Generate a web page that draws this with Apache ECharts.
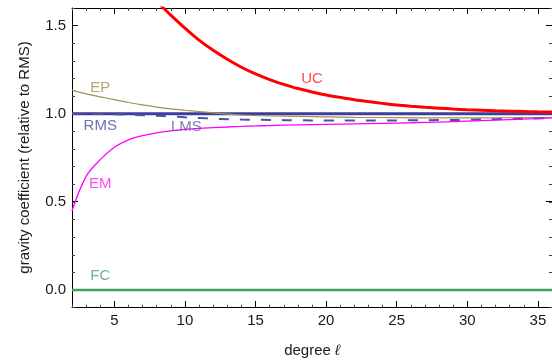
<!DOCTYPE html>
<html>
<head>
<meta charset="utf-8">
<script src="https://cdn.jsdelivr.net/npm/echarts@6/dist/echarts.min.js"></script>
<style>html,body{margin:0;padding:0;background:#fff}#c{width:552px;height:363px}</style>
</head>
<body>
<div id="c"></div>
<script>
// ---- data ----
const xMajorTicks = [5, 10, 15, 20, 25, 30, 35];
const yMajorTicks = [0, 0.5, 1.0, 1.5];

const ucDeg = [7,8,9,10,11,12,13,14,15,16,17,18,19,20,21,22,23,24,25,26,27,28,29,30,31,32,33,34,35,36];
const ucVal = [1.73,1.638,1.560,1.486,1.418,1.360,1.309,1.264,1.226,1.194,1.167,1.143,1.124,1.107,1.093,1.080,1.069,1.059,1.050,1.043,1.037,1.032,1.027,1.023,1.020,1.017,1.015,1.013,1.011,1.010];

const epDeg = [2,3,4,5,6,7,8,9,10,11,12,13,14,15,16,18,20,22,25,28,31,34,36];
const epVal = [1.134,1.113,1.096,1.080,1.064,1.050,1.038,1.028,1.020,1.013,1.005,0.998,0.993,0.990,0.988,0.985,0.982,0.980,0.978,0.977,0.977,0.978,0.979];

const rmsDeg = [2, 36];
const rmsVal = [1.0, 1.0];

const lmsDeg = [2,3,4,5,6,7,8,9,10,11,12,13,14,15,16,18,20,22,24,26,28,30,32,34,36];
const lmsVal = [1.0,1.0,0.999,0.997,0.995,0.992,0.989,0.985,0.980,0.976,0.972,0.969,0.967,0.966,0.965,0.963,0.962,0.962,0.962,0.963,0.964,0.966,0.969,0.972,0.976];

const emDeg = [2,3,4,5,6,7,8,9,10,11,12,13,14,15,16,18,20,22,24,26,28,30,32,34,36];
const emVal = [0.45,0.645,0.74,0.81,0.852,0.876,0.892,0.903,0.911,0.917,0.921,0.925,0.928,0.931,0.933,0.937,0.940,0.943,0.946,0.949,0.953,0.958,0.964,0.970,0.977];

const fcDeg = [2, 36];
const fcVal = [0, 0];

// curve labels: name, degree, value
const labelNames = ['UC', 'EP', 'RMS', 'LMS', 'EM', 'FC'];
const labelDeg   = [19, 4, 4, 10.1, 4, 4];
const labelVal   = [1.2, 1.146, 0.931, 0.925, 0.602, 0.083];
const labelColors = ['#ff1a1a', '#a39150', '#4b4ba3', '#5a5aa8', '#ff1aff', '#4c9f64'];

// ---- chart ----
const FONT = 'Liberation Sans, Arial, sans-serif';
const TXT = '#1a1a1a';
const pairs = (xs, ys) => xs.map((x, i) => [x, ys[i]]);
const gridRect = { left: 72, right: -5, top: 8, bottom: 55.3 };

function minorX(pos) {
  return { gridIndex: 0, type: 'value', position: pos, min: 2, max: 36, interval: 1,
    axisLine: { show: true, onZero: false, lineStyle: { color: '#000', width: 1 } },
    axisTick: { show: true, inside: true, length: 3, lineStyle: { color: '#444' } },
    axisLabel: { show: false }, splitLine: { show: false } };
}
function majorX(pos, withLabels) {
  return { gridIndex: 1, type: 'value', position: pos, min: 2, max: 36,
    axisLine: { show: false, onZero: false },
    axisTick: { show: true, inside: true, length: 6, customValues: xMajorTicks, lineStyle: { color: '#000' } },
    axisLabel: { show: withLabels, customValues: xMajorTicks, fontFamily: FONT, fontSize: 15, color: TXT, margin: 6 },
    splitLine: { show: false },
    name: withLabels ? 'degree {i|ℓ}' : '', nameLocation: 'middle', nameGap: 36,
    nameTextStyle: { fontFamily: FONT, fontSize: 15, color: TXT, rich: { i: { fontFamily: FONT, fontSize: 15, fontStyle: 'italic', color: TXT } } } };
}
function minorY(pos) {
  return { gridIndex: 0, type: 'value', position: pos, min: -0.1, max: 1.6, interval: 0.1,
    axisLine: { show: true, onZero: false, lineStyle: { color: '#000', width: 1 } },
    axisTick: { show: true, inside: true, length: 3, lineStyle: { color: '#444' } },
    axisLabel: { show: false }, splitLine: { show: false } };
}
function majorY(pos, withLabels) {
  return { gridIndex: 1, type: 'value', position: pos, min: -0.1, max: 1.6,
    axisLine: { show: false, onZero: false },
    axisTick: { show: true, inside: true, length: 6, customValues: yMajorTicks, lineStyle: { color: '#000' } },
    axisLabel: { show: withLabels, customValues: yMajorTicks, fontFamily: FONT, fontSize: 15, color: TXT, margin: 6,
      formatter: v => v.toFixed(1) },
    splitLine: { show: false },
    name: withLabels ? 'gravity coefficient (relative to RMS)' : '', nameLocation: 'middle', nameGap: 40,
    nameTextStyle: { fontFamily: FONT, fontSize: 15, color: TXT } };
}

function line(name, xs, ys, color, width, type, z) {
  return { name, type: 'line', xAxisIndex: 0, yAxisIndex: 0, data: pairs(xs, ys),
    smooth: 0.35, showSymbol: false, symbol: 'none', clip: true, z,
    lineStyle: { color, width, type }, emphasis: { disabled: true } };
}

const series = [
  line('FC', fcDeg, fcVal, '#45a060', 2.5, 'solid', 2),
  line('RMS', rmsDeg, rmsVal, '#3d3d9e', 3, 'solid', 3),
  line('EP', epDeg, epVal, '#a39150', 1.2, 'solid', 4),
  line('LMS', lmsDeg, lmsVal, '#50509f', 2, [10, 11], 5),
  line('EM', emDeg, emVal, '#ff00ff', 1.3, 'solid', 6),
  line('UC', ucDeg, ucVal, '#ff0000', 3, 'solid', 7),
  { type: 'scatter', xAxisIndex: 0, yAxisIndex: 0, symbolSize: 0, z: 10,
    data: labelNames.map((n, i) => ({ value: [labelDeg[i], labelVal[i]], name: n,
      label: { show: true, position: 'inside', formatter: n, color: labelColors[i], fontFamily: FONT, fontSize: 15 } })),
    emphasis: { disabled: true } }
];

const chart = echarts.init(document.getElementById('c'), null, { renderer: 'canvas' });
chart.setOption({
  animation: false,
  backgroundColor: '#fff',
  grid: [Object.assign({}, gridRect), Object.assign({}, gridRect)],
  xAxis: [minorX('bottom'), minorX('top'), majorX('bottom', true), majorX('top', false)],
  yAxis: [minorY('left'), minorY('right'), majorY('left', true), majorY('right', false)],
  series
});
</script>
</body>
</html>
